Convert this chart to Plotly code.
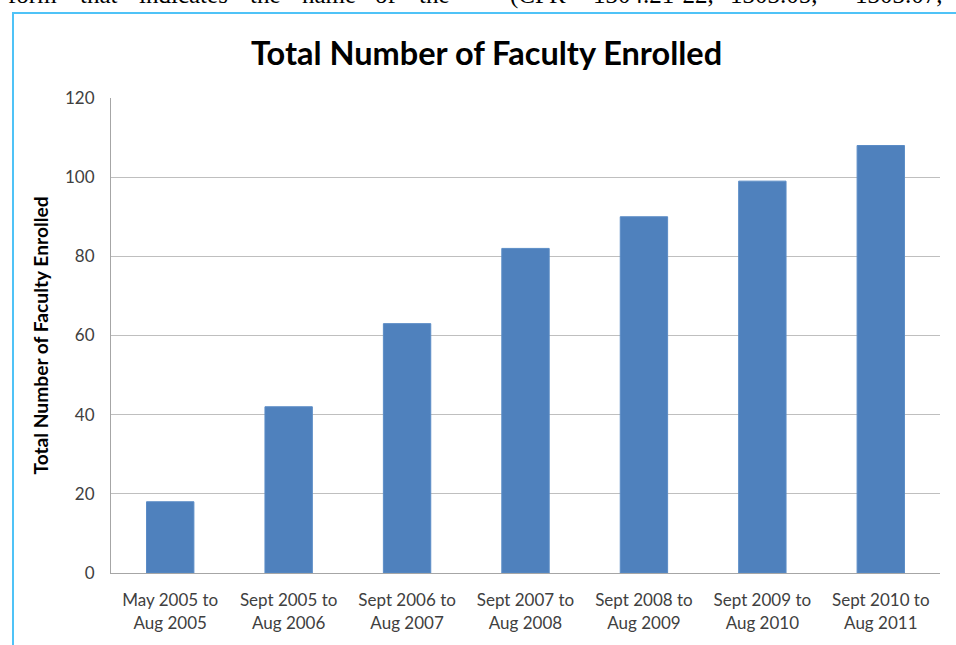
import plotly.graph_objects as go

categories = ["May 2005 to<br>Aug 2005", "Sept 2005 to<br>Aug 2006", "Sept 2006 to<br>Aug 2007",
              "Sept 2007 to<br>Aug 2008", "Sept 2008 to<br>Aug 2009", "Sept 2009 to<br>Aug 2010",
              "Sept 2010 to<br>Aug 2011"]
faculty_enrolled = [18, 42, 63, 82, 90, 99, 108]
y_ticks = [0, 20, 40, 60, 80, 100, 120]

# cropped line of document text above the chart frame
header_words = ["form", "that", "indicates", "the", "name", "of", "the",
                "(CFR", "1304.21-22,", "1303.05,", "1303.07,"]
header_word_x = [6, 78, 137, 248, 300, 373, 417, 508, 591, 728, 853]

W, H = 956, 645
L, R, T, B = 111, 16, 98, 72
pw, ph = W - L - R, H - T - B

def px_x(x):
    return (x - L) / pw

def px_y(y):
    return (H - B - y) / ph

font_main = "Lato, 'Open Sans', Arial, sans-serif"

fig = go.Figure(go.Bar(
    x=categories, y=faculty_enrolled,
    marker=dict(color="#4F81BD", line=dict(color="#5B8CC6", width=1)),
))

annotations = [
    dict(text="<b>Total Number of Faculty Enrolled</b>", x=px_x(486), y=px_y(52),
         xref="paper", yref="paper", showarrow=False,
         font=dict(size=32.5, color="#000000", family=font_main), xanchor="center", yanchor="middle"),
]
for w, x in zip(header_words, header_word_x):
    annotations.append(dict(
        text=w, x=px_x(x), y=px_y(-5), xref="paper", yref="paper", showarrow=False,
        font=dict(size=25, color="#000000", family="'Liberation Serif', 'DejaVu Serif', serif"),
        xanchor="left", yanchor="middle"))

fig.update_layout(
    width=W, height=H,
    margin=dict(l=L, r=R, t=T, b=B),
    paper_bgcolor="white", plot_bgcolor="white",
    bargap=0.6,
    showlegend=False,
    font=dict(family=font_main, color="#404040"),
    xaxis=dict(
        showgrid=False, showline=True, linecolor="#A6A6A6", linewidth=1,
        tickfont=dict(size=17, color="#404040", family=font_main),
        ticks="outside", ticklen=12, tickcolor="rgba(0,0,0,0)",
    ),
    yaxis=dict(
        range=[0, 120], tickvals=y_ticks,
        showgrid=True, gridcolor="#BFBFBF", gridwidth=1,
        showline=True, linecolor="#A6A6A6", linewidth=1,
        zeroline=False,
        tickfont=dict(size=17, color="#404040", family=font_main),
        ticks="outside", ticklen=12, tickcolor="rgba(0,0,0,0)",
        title=dict(text="<b>Total Number of Faculty Enrolled</b>",
                   font=dict(size=19.2, color="#000000", family=font_main), standoff=11),
    ),
    annotations=annotations,
    shapes=[
        dict(type="line", xref="paper", yref="paper", x0=px_x(13), x1=px_x(13), y0=px_y(13), y1=px_y(660),
             line=dict(color="#4FC3F7", width=2)),
        dict(type="line", xref="paper", yref="paper", x0=px_x(12), x1=px_x(970), y0=px_y(13), y1=px_y(13),
             line=dict(color="#4FC3F7", width=2)),
    ],
)

fig.write_html("out.html", config={"displayModeBar": False},
               post_script="document.body.style.margin='0';document.body.style.overflow='hidden';")
